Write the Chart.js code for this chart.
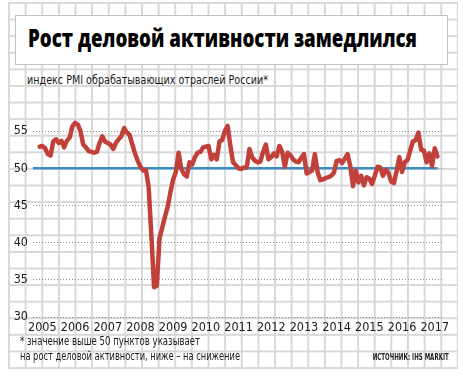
<!DOCTYPE html>
<html>
<head>
<meta charset="utf-8">
<script src="https://cdn.jsdelivr.net/npm/chart.js@4.4.1/dist/chart.umd.min.js"></script>
<style>
html, body { margin: 0; padding: 0; background: #fff; }
#wrap { position: relative; width: 463px; height: 380px; overflow: hidden; background: #fff; }
#paper {
	position: absolute; left: 7.6px; top: 2.1px; width: 450.6px; height: 366.8px;
	background-image:
		linear-gradient(to right, #d8d8d8 1.5px, transparent 1.5px),
		linear-gradient(to bottom, #d8d8d8 1.5px, transparent 1.5px);
	background-size: 16.63px 16.6px;
}
#titleBox {
	position: absolute; left: 15px; top: 15px; width: 433px; height: 50px;
	box-sizing: border-box; background: #fff; border: 1.5px solid #c2c2c2;
}
.txt { position: absolute; white-space: nowrap; display: inline-block; color: #1a1a1a; }
#title { left: 28px; top: 25.2px; font: 800 25.5px/25.5px 'Open Sans', 'DejaVu Sans', sans-serif; color: #000; transform-origin: left center; }
#subtitle { left: 27px; top: 74px; font: 12px/12px 'Liberation Sans Narrow', 'DejaVu Sans Condensed', sans-serif; transform-origin: left center; }
#note1 { left: 20px; top: 336px; font: 11.5px/11.5px 'Liberation Sans Narrow', 'DejaVu Sans Condensed', sans-serif; transform-origin: left center; }
#note2 { left: 20px; top: 351px; font: 11.5px/11.5px 'Liberation Sans Narrow', 'DejaVu Sans Condensed', sans-serif; transform-origin: left center; }
#source { right: 14px; top: 352.5px; font: bold 9px/9px 'Liberation Sans Narrow', 'DejaVu Sans Condensed', sans-serif; transform-origin: right center; }
#chartBox { position: absolute; left: 0; top: 100px; width: 463px; height: 242px; }
</style>
</head>
<body>
<div id="wrap">
	<div id="paper"></div>
	<div id="titleBox"></div>
	<span class="txt" id="title" data-fit="389">Рост деловой активности замедлился</span>
	<span class="txt" id="subtitle" data-fit="241">индекс PMI обрабатывающих отраслей России*</span>
	<div id="chartBox"><canvas id="pmiChart" width="463" height="242"></canvas></div>
	<span class="txt" id="note1" data-fit="180">* значение выше 50 пунктов указывает</span>
	<span class="txt" id="note2" data-fit="220">на рост деловой активности, ниже – на снижение</span>
	<span class="txt" id="source" data-fit="76">ИСТОЧНИК: IHS MARKIT</span>
</div>
<script>
// год и месяц первого значения (месяц: 0 = январь)
const startYear = 2005;
const startMonth = 5;

// PMI обрабатывающих отраслей России, помесячно
const pmi = [
	52.9, 53.0, 52.7, 51.9, 51.7, 53.6, 53.9,
	53.4, 53.7, 52.8, 53.7, 54.1, 55.6, 56.1, 55.9, 55.0, 53.2, 52.8, 52.3,
	52.2, 52.1, 52.2, 53.4, 54.3, 53.6, 53.4, 53.2, 52.6, 53.4, 53.9, 54.3,
	55.4, 54.8, 54.5, 53.2, 52.0, 51.0, 50.2, 49.7, 49.8, 47.5, 41.0, 34.0,
	34.2, 40.6, 42.0, 43.5, 44.8, 46.8, 48.5, 49.5, 52.1, 49.9, 49.2, 48.9,
	50.8, 50.5, 51.5, 52.1, 52.2, 52.8, 52.9, 53.0, 51.2, 51.8, 51.2, 53.6,
	53.8, 55.0, 55.7, 53.0, 50.8, 50.4, 50.0, 49.9, 50.1, 50.1, 52.6, 51.5,
	51.0, 50.8, 50.9, 52.2, 53.2, 51.2, 51.5, 52.0, 51.6, 53.0, 52.2, 50.2,
	52.1, 51.8, 51.2, 50.9, 50.8, 51.4, 51.9, 49.3, 49.5, 49.7, 51.9, 49.5,
	48.4, 48.5, 48.7, 48.8, 49.0, 49.4, 51.0, 51.1, 50.7, 51.3, 51.9, 50.3,
	47.6, 49.7, 48.1, 49.0, 47.7, 48.8, 48.6, 47.9, 49.0, 50.2, 50.1, 49.0,
	49.8, 49.4, 48.2, 48.0, 49.6, 51.5, 49.5, 50.8, 51.1, 52.4, 53.6, 53.8,
	54.8, 52.5, 52.4, 50.8, 52.0, 50.3, 52.7, 51.6
];

const years = [2005, 2006, 2007, 2008, 2009, 2010, 2011, 2012, 2013, 2014, 2015, 2016, 2017];
const yTicks = [30, 35, 40, 45, 50, 55];
const threshold = 50;

document.querySelectorAll('[data-fit]').forEach(el => {
	const k = +el.dataset.fit / el.getBoundingClientRect().width;
	el.style.transform = `scaleX(${k})`;
});

const tickFont = {family: "'Liberation Sans Narrow', 'DejaVu Sans Condensed', sans-serif", size: 12.5};
const xMin = 2005.214, xMax = 2017.783;
const points = pmi.map((v, i) => ({x: startYear + (startMonth + i) / 12, y: v}));
const lastX = points[points.length - 1].x;

new Chart(document.getElementById('pmiChart'), {
	type: 'line',
	data: {
		datasets: [
			{
				data: points,
				borderColor: '#c2403a',
				borderWidth: 4.5,
				pointRadius: 0,
				tension: 0,
				borderJoinStyle: 'round',
				borderCapStyle: 'round',
				order: 0
			},
			{
				data: [{x: xMin, y: threshold}, {x: lastX, y: threshold}],
				borderColor: '#3d8dc0',
				borderWidth: 2.5,
				pointRadius: 0,
				order: 1
			}
		]
	},
	options: {
		responsive: false,
		animation: false,
		clip: false,
		layout: {padding: {top: 9.1, right: 19, left: 0, bottom: 0}},
		plugins: {legend: {display: false}, tooltip: {enabled: false}},
		scales: {
			x: {
				type: 'linear',
				min: xMin,
				max: xMax,
				afterFit: s => { s.height = 25; },
				afterBuildTicks: s => { s.ticks = years.map(y => ({value: y + 0.5})); },
				grid: {display: false, drawTicks: false},
				border: {display: false},
				ticks: {
					padding: 3,
					autoSkip: false,
					maxRotation: 0,
					color: '#1a1a1a',
					font: tickFont,
					callback: v => String(Math.floor(v))
				}
			},
			y: {
				min: 30,
				max: 57.5,
				afterFit: s => { s.width = 33; },
				afterBuildTicks: s => { s.ticks = yTicks.map(v => ({value: v})); },
				grid: {color: '#8c8c8c', lineWidth: 1, drawTicks: false},
				border: {display: false, dash: [1, 2]},
				ticks: {padding: 5, color: '#1a1a1a', font: tickFont}
			}
		}
	}
});
</script>
</body>
</html>
